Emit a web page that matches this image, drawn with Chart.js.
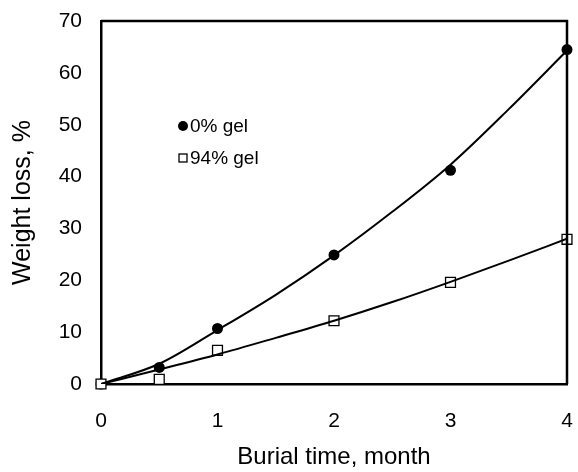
<!DOCTYPE html>
<html>
<head>
<meta charset="utf-8">
<script src="https://cdn.jsdelivr.net/npm/chart.js@4.4.0/dist/chart.umd.min.js"></script>
<style>
  html, body { margin: 0; padding: 0; background: #fff; }
  #wrap { width: 578px; height: 472px; }
</style>
</head>
<body>
<div id="wrap"><canvas id="chart" width="578" height="472"></canvas></div>
<script>
// measured points (burial time in months, weight loss %)
const months = [0, 0.5, 1, 2, 3, 4];
const gel0 = [0, 3.2, 10.7, 24.9, 41.2, 64.5];
const gel94 = [0, 0.9, 6.5, 12.2, 19.6, 27.9];

// fitted curves
const fitMonths = [0, 0.5, 1, 1.5, 2, 2.5, 3, 3.5, 4];
const fit0 = [0, 3.9, 10.4, 17.2, 24.8, 33.2, 42.3, 53.0, 64.3];
const fit94 = [0, 2.8, 5.7, 8.9, 12.2, 15.8, 19.7, 23.8, 28.0];

const xTicks = [0, 1, 2, 3, 4];
const yTicks = [0, 10, 20, 30, 40, 50, 60, 70];

const seriesNames = ["0% gel", "94% gel"];

function toPoints(xs, ys) {
  return xs.map((x, i) => ({ x: x, y: ys[i] }));
}

const FONT = "'Liberation Sans', Arial, Helvetica, sans-serif";

// frame on top/right + legend inside plot
const framePlugin = {
  id: "frame",
  afterDatasetsDraw(chart) {
    const { ctx, chartArea: a } = chart;
    ctx.save();
    ctx.strokeStyle = "#000";
    ctx.lineWidth = 2.5;
    ctx.beginPath();
    ctx.moveTo(a.left, a.top);
    ctx.lineTo(a.right, a.top);
    ctx.lineTo(a.right, a.bottom);
    ctx.stroke();

    // legend
    const lx = a.left + 82;
    ctx.font = "19px " + FONT;
    ctx.textBaseline = "middle";
    ctx.fillStyle = "#000";
    ctx.beginPath();
    ctx.arc(lx, a.top + 105, 5, 0, Math.PI * 2);
    ctx.fill();
    ctx.fillText(seriesNames[0], lx + 7, a.top + 106);
    ctx.lineWidth = 1.3;
    ctx.strokeRect(lx - 4, a.top + 133, 8, 8);
    ctx.fillText(seriesNames[1], lx + 7, a.top + 138);
    ctx.restore();
  }
};

// invisible grid, only used so tick labels sit away from the axis
const hiddenGrid = len => ({
  display: true,
  drawOnChartArea: false,
  drawTicks: true,
  tickLength: len,
  color: "rgba(0,0,0,0)"
});

new Chart(document.getElementById("chart"), {
  type: "scatter",
  data: {
    datasets: [
      {
        label: "fit 0",
        data: toPoints(fitMonths, fit0),
        showLine: true,
        borderColor: "#000",
        borderWidth: 2,
        pointRadius: 0,
        cubicInterpolationMode: "monotone"
      },
      {
        label: "fit 94",
        data: toPoints(fitMonths, fit94),
        showLine: true,
        borderColor: "#000",
        borderWidth: 2,
        pointRadius: 0,
        cubicInterpolationMode: "monotone"
      },
      {
        label: seriesNames[1],
        data: toPoints(months, gel94),
        pointStyle: "rect",
        pointRadius: 7,
        pointBorderWidth: 1.3,
        pointBorderColor: "#000",
        pointBackgroundColor: "#fff",
        clip: false
      },
      {
        label: seriesNames[0],
        data: toPoints(months, gel0),
        pointStyle: "circle",
        pointRadius: 5.5,
        pointBorderWidth: 0,
        pointBackgroundColor: "#000",
        clip: false
      }
    ]
  },
  options: {
    responsive: false,
    animation: false,
    events: [],
    layout: { padding: { top: 21, right: 11, left: 0, bottom: 0 } },
    plugins: {
      legend: { display: false },
      tooltip: { enabled: false }
    },
    scales: {
      x: {
        type: "linear",
        min: 0,
        max: 4,
        afterBuildTicks: s => { s.ticks = xTicks.map(v => ({ value: v })); },
        afterFit: s => { s.height = 88; },
        grid: hiddenGrid(25),
        border: { display: true, color: "#000", width: 2.5 },
        ticks: { color: "#000", padding: 0, font: { family: FONT, size: 21 } },
        title: {
          display: true,
          text: "Burial time, month",
          color: "#000",
          font: { family: FONT, size: 24, lineHeight: 1.2 },
          padding: { top: 0, bottom: 0 }
        }
      },
      y: {
        type: "linear",
        min: 0,
        max: 70,
        afterBuildTicks: s => { s.ticks = yTicks.map(v => ({ value: v })); },
        afterFit: s => { s.width = 101; },
        grid: hiddenGrid(19),
        border: { display: true, color: "#000", width: 2.5 },
        ticks: { color: "#000", padding: 0, font: { family: FONT, size: 21 } },
        title: {
          display: true,
          text: "Weight loss, %",
          color: "#000",
          font: { family: FONT, size: 25, lineHeight: 1.2 },
          padding: { top: 8, bottom: 0 }
        }
      }
    }
  },
  plugins: [framePlugin]
});
</script>
</body>
</html>
